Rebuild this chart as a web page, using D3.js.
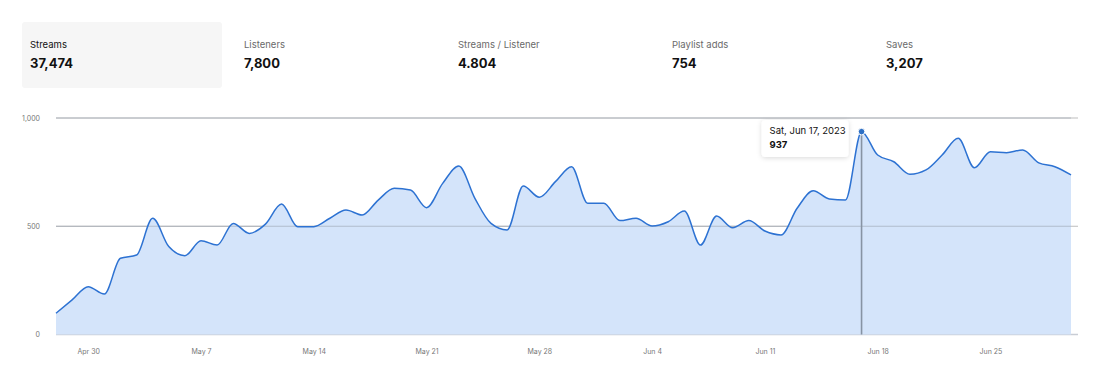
<!DOCTYPE html>
<html>

<head>
    <meta charset="UTF-8" />
    <title>streams</title>
    <style>
        body {
            margin: 0;
            padding: 0;
            background: #fff;
            font-family: Inter, 'Noto Sans', sans-serif;
        }

        svg {
            display: block;
        }
    </style>
</head>

<body>
    <div class="container"></div>

    <script src="https://cdnjs.cloudflare.com/ajax/libs/d3/7.8.5/d3.min.js"></script>
    <script>
        const w = 1101;
        const h = 375;

        // summary cards
        const statLabels = ['Streams', 'Listeners', 'Streams / Listener', 'Playlist adds', 'Saves'];
        const statValues = ['37,474', '7,800', '4.804', '754', '3,207'];

        // daily streams, Apr 28 - Jun 30 2023
        const startDate = '2023-04-28';
        const streams = [
            98, 160, 221, 187, 352, 367, 537, 406, 364, 433,
            413, 513, 467, 510, 603, 498, 498, 537, 575, 552,
            621, 675, 667, 586, 698, 778, 629, 513, 483, 686,
            634, 706, 775, 606, 606, 526, 537, 501, 521, 570,
            413, 547, 493, 526, 478, 460, 583, 664, 626, 621,
            937, 829, 798, 740, 760, 829, 906, 770, 844, 840,
            852, 793, 775, 737
        ];
        const yTicks = [0, 500, 1000];
        const xTickDates = ['2023-04-30', '2023-05-07', '2023-05-14', '2023-05-21', '2023-05-28',
            '2023-06-04', '2023-06-11', '2023-06-18', '2023-06-25'];
        const hoverDate = '2023-06-17';

        const parse = d3.utcParse('%Y-%m-%d');
        const t0 = parse(startDate);
        const data = streams.map((v, i) => ({ date: d3.utcDay.offset(t0, i), value: v }));

        const svg = d3.select('.container').append('svg')
            .attr('width', w)
            .attr('height', h);

        // cards
        const cardX = d3.scalePoint().domain(statLabels).range([30, 886]);
        svg.append('rect')
            .attr('x', 22).attr('y', 22)
            .attr('width', 200).attr('height', 66)
            .attr('rx', 3)
            .attr('fill', '#f6f6f6');

        const cards = svg.selectAll('.card').data(statLabels).join('g')
            .attr('class', 'card')
            .attr('transform', d => `translate(${cardX(d)},0)`);
        cards.append('text')
            .attr('y', 48)
            .attr('font-size', 9.5)
            .attr('fill', (d, i) => i === 0 ? '#111' : '#6a6a6a')
            .text(d => d);
        cards.append('text')
            .attr('y', 68)
            .attr('font-size', 13)
            .attr('font-weight', 700)
            .attr('fill', '#111')
            .text((d, i) => statValues[i]);

        // chart
        const margin = { left: 56, right: 1078, top: 118, bottom: 334.5 };
        const x = d3.scaleUtc()
            .domain(d3.extent(data, d => d.date))
            .range([56, 1071]);
        const y = d3.scaleLinear().domain([0, 1000]).range([margin.bottom, margin.top]);

        const grid = svg.append('g');
        grid.selectAll('line').data(yTicks).join('line')
            .attr('x1', margin.left).attr('x2', margin.right)
            .attr('y1', d => y(d)).attr('y2', d => y(d))
            .attr('stroke', d => d === 0 ? '#c9cdd5' : '#bdbdbd')
            .attr('stroke-width', d => d === 0 ? 1.5 : 1);

        const yAxis = svg.append('g')
            .attr('transform', 'translate(40,0)')
            .call(d3.axisLeft(y).tickValues(yTicks).tickSize(0).tickPadding(0).tickFormat(d3.format(',')));
        yAxis.select('.domain').remove();
        yAxis.selectAll('text')
            .attr('font-family', 'Inter, sans-serif')
            .attr('font-size', 7)
            .attr('fill', '#777');

        const xAxis = svg.append('g')
            .attr('transform', 'translate(0,349)')
            .call(d3.axisBottom(x).tickValues(xTickDates.map(parse)).tickSize(0).tickPadding(0)
                .tickFormat(d3.utcFormat('%b %-d')));
        xAxis.select('.domain').remove();
        xAxis.selectAll('text')
            .attr('font-family', 'Inter, sans-serif')
            .attr('font-size', 7)
            .attr('fill', '#777');

        const curve = d3.curveMonotoneX;
        const area = d3.area()
            .x(d => x(d.date))
            .y0(y(0))
            .y1(d => y(d.value))
            .curve(curve);
        const line = d3.line()
            .x(d => x(d.date))
            .y(d => y(d.value))
            .curve(curve);

        svg.append('path')
            .attr('d', area(data))
            .attr('fill', '#d4e4fa');

        // redraw grid lines on top of fill (they show through)
        svg.append('g').selectAll('line').data(yTicks.filter(d => d > 0)).join('line')
            .attr('x1', margin.left).attr('x2', 1071)
            .attr('y1', d => y(d)).attr('y2', d => y(d))
            .attr('stroke', '#9aa3b0')
            .attr('stroke-opacity', 0.6)
            .attr('stroke-width', 1);

        svg.append('path')
            .attr('d', line(data))
            .attr('fill', 'none')
            .attr('stroke', '#2d72d2')
            .attr('stroke-width', 1.5);

        // hover marker
        const hp = data.find(d => +d.date === +parse(hoverDate));
        svg.append('line')
            .attr('x1', x(hp.date)).attr('x2', x(hp.date))
            .attr('y1', y(hp.value)).attr('y2', y(0))
            .attr('stroke', '#8793a3')
            .attr('stroke-width', 1.6);
        svg.append('circle')
            .attr('cx', x(hp.date)).attr('cy', y(hp.value))
            .attr('r', 3.3)
            .attr('fill', '#2d6fc4')
            .attr('stroke', '#fff')
            .attr('stroke-width', 1);

        // tooltip
        const defs = svg.append('defs');
        const f = defs.append('filter').attr('id', 'shadow')
            .attr('x', '-20%').attr('y', '-30%').attr('width', '140%').attr('height', '160%');
        f.append('feDropShadow')
            .attr('dx', 0).attr('dy', 1)
            .attr('stdDeviation', 2.5)
            .attr('flood-color', '#000')
            .attr('flood-opacity', 0.15);

        const tip = svg.append('g').attr('transform', `translate(${x(hp.date) - 100},120)`);
        tip.append('rect')
            .attr('width', 87).attr('height', 37)
            .attr('rx', 4)
            .attr('fill', '#fff')
            .attr('filter', 'url(#shadow)');
        tip.append('text')
            .attr('x', 8).attr('y', 14)
            .attr('font-size', 9.5)
            .attr('fill', '#111')
            .text(d3.utcFormat('%a, %b %-d, %Y')(hp.date));
        tip.append('text')
            .attr('x', 8).attr('y', 28)
            .attr('font-size', 9.5)
            .attr('font-weight', 700)
            .attr('fill', '#111')
            .text(d3.format(',')(hp.value));
    </script>
</body>

</html>
